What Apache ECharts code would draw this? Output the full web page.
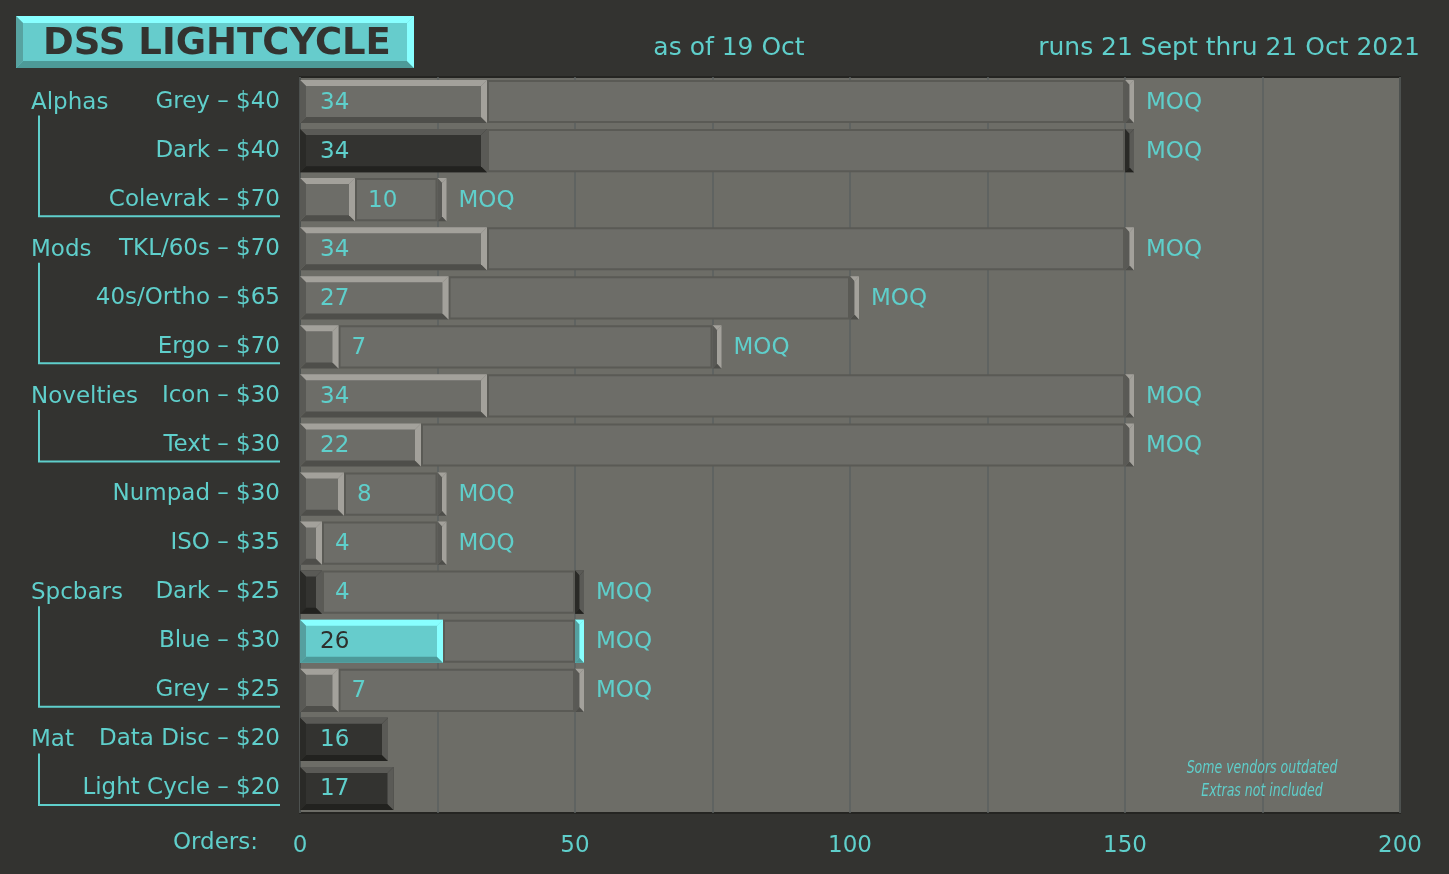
<!DOCTYPE html>
<html><head><meta charset="utf-8">
<script src="https://cdn.jsdelivr.net/npm/echarts@6/dist/echarts.min.js"></script>
<style>html,body{margin:0;padding:0;background:#333330;}#c{width:1449px;height:874px;}</style>
</head><body><div id="c"></div>
<script>
// ---- data ----
const categories = ['Grey – $40','Dark – $40','Colevrak – $70','TKL/60s – $70','40s/Ortho – $65','Ergo – $70','Icon – $30','Text – $30','Numpad – $30','ISO – $35','Dark – $25','Blue – $30','Grey – $25','Data Disc – $20','Light Cycle – $20'];
const orders = [34,34,10,34,27,7,34,22,8,4,4,26,7,16,17];
const moq = [150,150,25,150,100,75,150,150,25,25,50,50,50,null,null];
const keycapColour = ['grey','dark','grey','grey','grey','grey','grey','grey','grey','grey','dark','cyan','grey','dark','dark'];
const groupNames = ['Alphas','Mods','Novelties','Spcbars','Mat'];
const groupFirstRow = [0,3,6,10,13];
const groupLastRow = [2,5,7,12,14];
const xTickLabels = [0,50,100,150,200];
const titleText = 'DSS LIGHTCYCLE';
const subtitleText = 'as of 19 Oct';
const runText = 'runs 21 Sept thru 21 Oct 2021';
const noteLines = ['Some vendors outdated','Extras not included'];

// ---- styles ----
const CYAN = '#5fcfcb';
const FONT = '"DejaVu Sans", "Noto Sans", sans-serif';
const FS = 23;
const palettes = {
  grey: {face:'#6d6d68', top:'#a3a19b', right:'#a3a19b', bottom:'#4e4e4a', left:'#595955', text:CYAN},
  dark: {face:'#333330', top:'#5a5a56', right:'#5a5a56', bottom:'#22221f', left:'#2a2a27', text:CYAN},
  cyan: {face:'#66cccc', top:'#88ffff', right:'#88ffff', bottom:'#4d9999', left:'#559f9f', text:'#2e2e2b'}
};

function keyShapes(x0,y0,x1,y1,b,pal){
  const bx = Math.min(b,(x1-x0)/2);
  return [
    {type:'rect', shape:{x:x0,y:y0,width:x1-x0,height:y1-y0}, style:{fill:pal.face}},
    {type:'polygon', shape:{points:[[x0,y0],[x1,y0],[x1-bx,y0+b],[x0+bx,y0+b]]}, style:{fill:pal.top}},
    {type:'polygon', shape:{points:[[x0,y1],[x1,y1],[x1-bx,y1-b],[x0+bx,y1-b]]}, style:{fill:pal.bottom}},
    {type:'polygon', shape:{points:[[x0,y0],[x0+bx,y0+b],[x0+bx,y1-b],[x0,y1]]}, style:{fill:pal.left}},
    {type:'polygon', shape:{points:[[x1,y0],[x1,y1],[x1-bx,y1-b],[x1-bx,y0+b]]}, style:{fill:pal.right}}
  ];
}

function renderRow(params, api){
  const v = api.value(0);
  const i = api.value(1);
  const m = moq[i];
  const c = api.coord([0,i]);
  const band = api.size([0,1])[1];
  const h = band*0.88;
  const y0 = c[1]-h/2, y1 = c[1]+h/2;
  const x0 = c[0];
  const xe = api.coord([v,i])[0];
  const pal = palettes[keycapColour[i]];
  const ch = [];
  if (m != null){
    const xm = api.coord([m,i])[0];
    ch.push({type:'rect', shape:{x:xe+1, y:y0+1, width:xm-xe-2, height:h-2}, style:{fill:'#6d6d68', stroke:'#5a5a55', lineWidth:2}});
    ch.push(...keyShapes(xm, y0, xm+9, y1, 5, pal));
    ch.push({type:'text', style:{text:'MOQ', x:xm+21, y:c[1]+1, fill:CYAN, fontSize:FS, fontFamily:FONT, align:'left', verticalAlign:'middle'}});
  }
  ch.push(...keyShapes(x0,y0,xe,y1,6,pal));
  const inside = v >= 12;
  ch.push({type:'text', style:{text:String(v), x: inside ? x0+20 : xe+13, y:c[1]+1,
    fill: inside ? pal.text : CYAN, fontSize:FS, fontFamily:FONT, align:'left', verticalAlign:'middle'}});
  return {type:'group', children:ch};
}

function renderGroup(params, api){
  const first = api.value(1), last = api.value(2);
  const c0 = api.coord([0, first]);
  const c1 = api.coord([0, last]);
  const name = groupNames[params.dataIndex];
  const lx = 39, rx = c0[0]-20;
  return {type:'group', children:[
    {type:'text', style:{text:name, x:31, y:c0[1]+1, fill:CYAN, fontSize:FS, fontFamily:FONT, align:'left', verticalAlign:'middle'}},
    {type:'polyline', shape:{points:[[lx, c0[1]+14],[lx, c1[1]+16.5],[rx, c1[1]+16.5]]}, style:{stroke:CYAN, lineWidth:2, fill:null}}
  ]};
}

const NOTE_FONT = '"DejaVu Sans Condensed", "Liberation Sans Narrow", sans-serif';
const chart = echarts.init(document.getElementById('c'), null, {renderer:'canvas'});
const option = {
  backgroundColor:'#333330',
  animation:false,
  grid:{left:300, right:49, top:77, bottom:61, show:true, backgroundColor:'#6d6d67', borderColor:'#252522', borderWidth:2},
  xAxis:{type:'value', min:0, max:200, interval:25,
    axisLine:{show:false}, axisTick:{show:false},
    splitLine:{show:true, lineStyle:{color:'#5b615f', width:1.5}},
    axisLabel:{color:CYAN, fontSize:FS, fontFamily:FONT, margin:22,
      formatter:(val)=> xTickLabels.indexOf(val) >= 0 ? String(val) : ''}},
  yAxis:{type:'category', data:categories, inverse:true,
    axisLine:{show:false}, axisTick:{show:false}, splitLine:{show:false},
    axisLabel:{color:CYAN, fontSize:FS, fontFamily:FONT, margin:20}},
  series:[
    {type:'custom', name:'orders', renderItem:renderRow, clip:false,
      encode:{x:0, y:1},
      data: orders.map((v,i)=>[v,i])},
    {type:'custom', name:'groups', renderItem:renderGroup, clip:false,
      encode:{x:0, y:1},
      data: groupNames.map((g,k)=>[0, groupFirstRow[k], groupLastRow[k]])}
  ],
  graphic:[
    {type:'group', left:16, top:16, children:[
      ...keyShapes(0,0,398,52,7,{face:'#66cccc', top:'#88ffff', right:'#88ffff', bottom:'#4d9a98', left:'#57a3a1'}),
      {type:'text', style:{text:titleText, x:201, y:28, fill:'#333330', fontSize:37, fontWeight:'bold', fontFamily:'"DejaVu Sans", sans-serif', align:'center', verticalAlign:'middle'}}
    ]},
    {type:'text', style:{text:subtitleText, x:729, y:48, fill:CYAN, fontSize:25, fontFamily:FONT, align:'center', verticalAlign:'middle'}},
    {type:'text', style:{text:runText, x:1420, y:48, fill:CYAN, fontSize:25, fontFamily:FONT, align:'right', verticalAlign:'middle'}},
    {type:'text', style:{text:'Orders:', x:258, y:843, fill:CYAN, fontSize:FS, fontFamily:FONT, align:'right', verticalAlign:'middle'}},
    {type:'text', z:100, x:1262, y:769, scaleX:0.82, style:{text:noteLines[0], x:0, y:0, fill:CYAN, fontSize:17, fontStyle:'italic', fontFamily:NOTE_FONT, align:'center', verticalAlign:'middle'}},
    {type:'text', z:100, x:1262, y:792, scaleX:0.82, style:{text:noteLines[1], x:0, y:0, fill:CYAN, fontSize:17, fontStyle:'italic', fontFamily:NOTE_FONT, align:'center', verticalAlign:'middle'}}
  ]
};
chart.setOption(option);
</script></body></html>
